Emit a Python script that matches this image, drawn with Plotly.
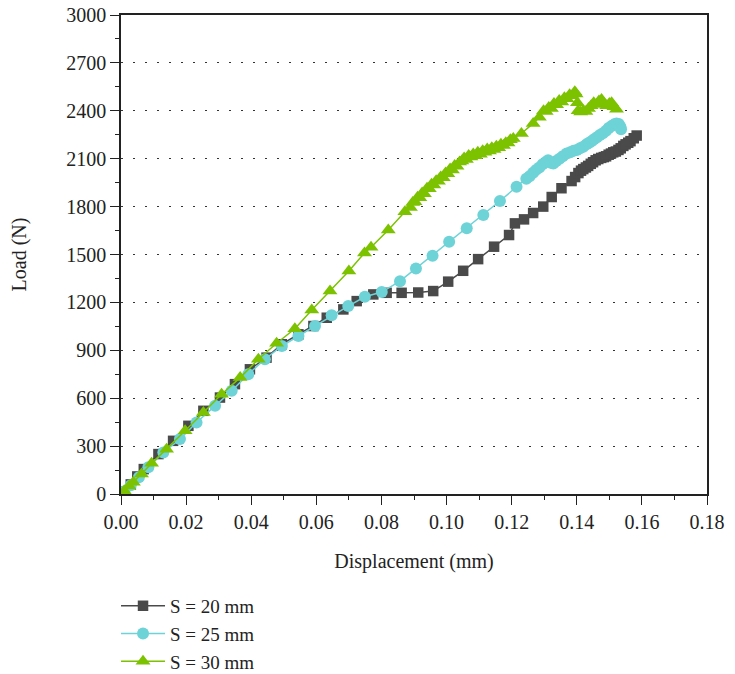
import plotly.graph_objects as go

# ---- data ----
s20_x = [0.001, 0.003, 0.005, 0.007, 0.0115, 0.016, 0.0207, 0.0253, 0.0304, 0.035,
         0.0396, 0.0447, 0.0494, 0.0545, 0.0591, 0.0632, 0.0683, 0.0724, 0.0775, 0.0816,
         0.0862, 0.0913, 0.0959, 0.1005, 0.1051, 0.1097, 0.1146, 0.1192, 0.121, 0.1238,
         0.1266, 0.1297, 0.1323, 0.1353, 0.1384, 0.1395, 0.1405, 0.1413, 0.142, 0.1428,
         0.1435, 0.1443, 0.145, 0.1458, 0.1466, 0.1475, 0.1483, 0.149, 0.1498, 0.1505,
         0.1512, 0.152, 0.1528, 0.1535, 0.1543, 0.155, 0.1558, 0.1565, 0.1575, 0.1584]
s20_y = [15, 60, 110, 156, 250, 333, 427, 521, 604, 688,
         781, 854, 938, 1000, 1052, 1104, 1156, 1208, 1250, 1260,
         1260, 1262, 1271, 1330, 1398, 1471, 1549, 1622, 1695, 1720,
         1760, 1800, 1860, 1915, 1960, 1985, 2010, 2025, 2035, 2045,
         2055, 2068, 2078, 2090, 2098, 2105, 2110, 2115, 2125, 2132,
         2140, 2145, 2155, 2165, 2180, 2190, 2200, 2210, 2228, 2245]

s25_x = [0.001, 0.003, 0.0055, 0.0084, 0.013, 0.0181, 0.0232, 0.0289, 0.034, 0.0391,
         0.0442, 0.0494, 0.0545, 0.0596, 0.0647, 0.0698, 0.0749, 0.0801, 0.0857, 0.0906,
         0.0957, 0.1008, 0.1062, 0.1113, 0.1164, 0.1215, 0.1245, 0.1255, 0.1266, 0.1275,
         0.1285, 0.1295, 0.1305, 0.1312, 0.132, 0.1328, 0.1337, 0.1347, 0.1357, 0.1369,
         0.138, 0.139, 0.14, 0.141, 0.142, 0.143, 0.1438, 0.1445, 0.1453, 0.1462,
         0.1471, 0.148, 0.149, 0.1498, 0.1507, 0.1515, 0.1522, 0.1529, 0.1534, 0.1536]
s25_y = [15, 55, 105, 167, 260, 344, 448, 552, 646, 750,
         844, 927, 990, 1052, 1119, 1177, 1235, 1265, 1333, 1413,
         1492, 1580, 1664, 1747, 1835, 1924, 1975, 1990, 2012, 2030,
         2045, 2065, 2080, 2091, 2075, 2070, 2085, 2100, 2115, 2133,
         2140, 2150, 2155, 2165, 2175, 2190, 2200, 2210, 2222, 2235,
         2248, 2260, 2275, 2292, 2305, 2315, 2320, 2318, 2300, 2285]

s30_x = [0.001, 0.0025, 0.0038, 0.0063, 0.0094, 0.014, 0.0197, 0.0253, 0.0309, 0.0366,
         0.0422, 0.0478, 0.0534, 0.0586, 0.0642, 0.07, 0.0748, 0.0768, 0.0821, 0.0872,
         0.0889, 0.0896, 0.0903, 0.0911, 0.0918, 0.0925, 0.0932, 0.094, 0.0947, 0.0954,
         0.0961, 0.0968, 0.0975, 0.0982, 0.099, 0.0997, 0.1004, 0.1011, 0.1018, 0.1025,
         0.1032, 0.104, 0.1047, 0.1054, 0.1061, 0.1068, 0.1075, 0.1082, 0.1089, 0.1096,
         0.1104, 0.1111, 0.1118, 0.1125, 0.1132, 0.1139, 0.1146, 0.1153, 0.116, 0.1167,
         0.1175, 0.1182, 0.1189, 0.1196, 0.1205, 0.123, 0.1266, 0.1285, 0.1298, 0.1306,
         0.1314, 0.1322, 0.133, 0.1338, 0.1346, 0.1354, 0.1362, 0.137, 0.1378, 0.1386,
         0.1394, 0.1398, 0.1402, 0.1404, 0.1412, 0.142, 0.1428, 0.1436, 0.1444, 0.1452,
         0.146, 0.1468, 0.1476, 0.1484, 0.1492, 0.15, 0.1507, 0.1514, 0.1522]
s30_y = [20, 50, 73, 125, 192, 281, 396, 510, 625, 729,
         844, 944, 1035, 1152, 1271, 1396, 1510, 1545, 1653, 1768,
         1795, 1825, 1830, 1858, 1855, 1885, 1880, 1915, 1912, 1940,
         1935, 1962, 1958, 1985, 1980, 2010, 2005, 2035, 2030, 2058,
         2052, 2080, 2085, 2105, 2095, 2120, 2110, 2130, 2118, 2140,
         2128, 2150, 2140, 2160, 2148, 2168, 2158, 2178, 2168, 2190,
         2182, 2200, 2198, 2218, 2227, 2258, 2321, 2360, 2400, 2395,
         2420, 2415, 2445, 2438, 2465, 2455, 2482, 2475, 2500, 2495,
         2520, 2505, 2450, 2400, 2392, 2400, 2395, 2415, 2432, 2450,
         2440, 2462, 2470, 2445, 2432, 2445, 2450, 2425, 2410]

series_names = ["S = 20 mm", "S = 25 mm", "S = 30 mm"]
x_ticks = [0.00, 0.02, 0.04, 0.06, 0.08, 0.10, 0.12, 0.14, 0.16, 0.18]
y_ticks = [0, 300, 600, 900, 1200, 1500, 1800, 2100, 2400, 2700, 3000]

FONT = "Liberation Serif"
INK = "#222222"

fig = go.Figure()
fig.add_trace(go.Scatter(x=s20_x, y=s20_y, mode="lines+markers", name=series_names[0],
                         line=dict(color="#4a4a4a", width=1.5),
                         marker=dict(symbol="square", size=10.5, color="#4a4a4a")))
fig.add_trace(go.Scatter(x=s25_x, y=s25_y, mode="lines+markers", name=series_names[1],
                         line=dict(color="#6dd3d7", width=1.5),
                         marker=dict(symbol="circle", size=12, color="#6dd3d7")))
fig.add_trace(go.Scatter(x=s30_x, y=s30_y, mode="lines+markers", name=series_names[2],
                         line=dict(color="#7cc200", width=1.5),
                         marker=dict(symbol="triangle-up", size=13, color="#7cc200")))

fig.update_layout(
    width=735, height=674,
    margin=dict(l=121, r=28, t=15, b=180, autoexpand=False),
    paper_bgcolor="white", plot_bgcolor="white",
    font=dict(family=FONT, size=20, color=INK),
    showlegend=True,
    legend=dict(x=-0.0085, y=-0.194, xanchor="left", yanchor="top",
                orientation="v", font=dict(family=FONT, size=19, color=INK),
                bgcolor="rgba(0,0,0,0)", itemwidth=44, tracegroupgap=0),
)
fig.update_xaxes(
    range=[0, 0.18], tickvals=x_ticks, tickformat=".2f",
    ticks="outside", ticklen=9, tickwidth=1.3, tickcolor=INK,
    showline=True, linecolor=INK, linewidth=1.5, mirror=True,
    showgrid=False, zeroline=False,
    minor=dict(dtick=0.01, ticks="outside", ticklen=4, tickwidth=1.3, tickcolor=INK, showgrid=False),
    title=dict(text="Displacement (mm)", standoff=22, font=dict(family=FONT, size=20, color=INK)),
    tickfont=dict(family=FONT, size=20, color=INK),
)
fig.update_yaxes(
    range=[0, 3000], tickvals=y_ticks,
    ticks="outside", ticklen=9, tickwidth=1.3, tickcolor=INK,
    showline=True, linecolor=INK, linewidth=1.5, mirror=True,
    showgrid=True, gridcolor="#333333", gridwidth=1.2, griddash="2px,10px",
    zeroline=False,
    minor=dict(dtick=150, ticks="outside", ticklen=4, tickwidth=1.3, tickcolor=INK, showgrid=False),
    title=dict(text="Load (N)", standoff=34, font=dict(family=FONT, size=20, color=INK)),
    tickfont=dict(family=FONT, size=20, color=INK),
)

fig.write_html("out.html")
